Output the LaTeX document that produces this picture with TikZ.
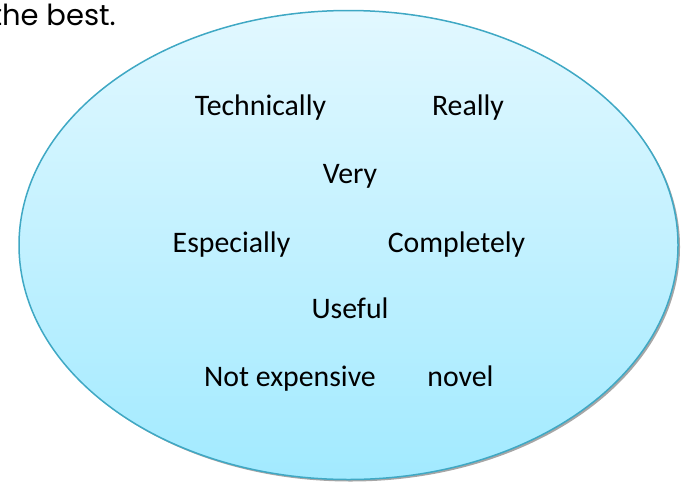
\documentclass[tikz,border=0pt]{standalone}
\usepackage{fontspec}
\setmainfont{Carlito}
\newfontfamily\gothic{Poppins}
\usetikzlibrary{shapes.geometric,shadows}
\definecolor{topblue}{HTML}{E2F8FF}
\definecolor{botblue}{HTML}{A2EAFF}
\definecolor{rimblue}{HTML}{3FA8C4}
\tikzset{
  word/.style={anchor=base, inner sep=0pt, font=\fontsize{29.8}{31}\selectfont, text=black},
}
\begin{document}
\begin{tikzpicture}[x=1pt,y=-1pt]
\useasboundingbox (0,0) rectangle (687,482);
\node[anchor=base east, inner sep=0pt, font=\gothic\fontsize{29}{32}\selectfont] (head) at (116,25) {the best.};
\fill[gray!70] (350.5,247) ellipse [x radius=329.5, y radius=234.5];
\shade[top color=topblue, bottom color=botblue, draw=rimblue, line width=1.5pt]
  (348.5,245) ellipse [x radius=329.5, y radius=234.5];
\node[word] (tech) at (260.5,115) {Technically};
\node[word] (really) at (468,115) {Really};
\node[word] (very) at (350,183) {Very};
\node[word] (espec) at (231.5,252) {Especially};
\node[word] (compl) at (456.5,252) {Completely};
\node[word] (useful) at (350,318) {Useful};
\node[word] (notexp) at (290,386) {Not expensive};
\node[word] (novel) at (460.5,386) {novel};
\end{tikzpicture}
\end{document}
